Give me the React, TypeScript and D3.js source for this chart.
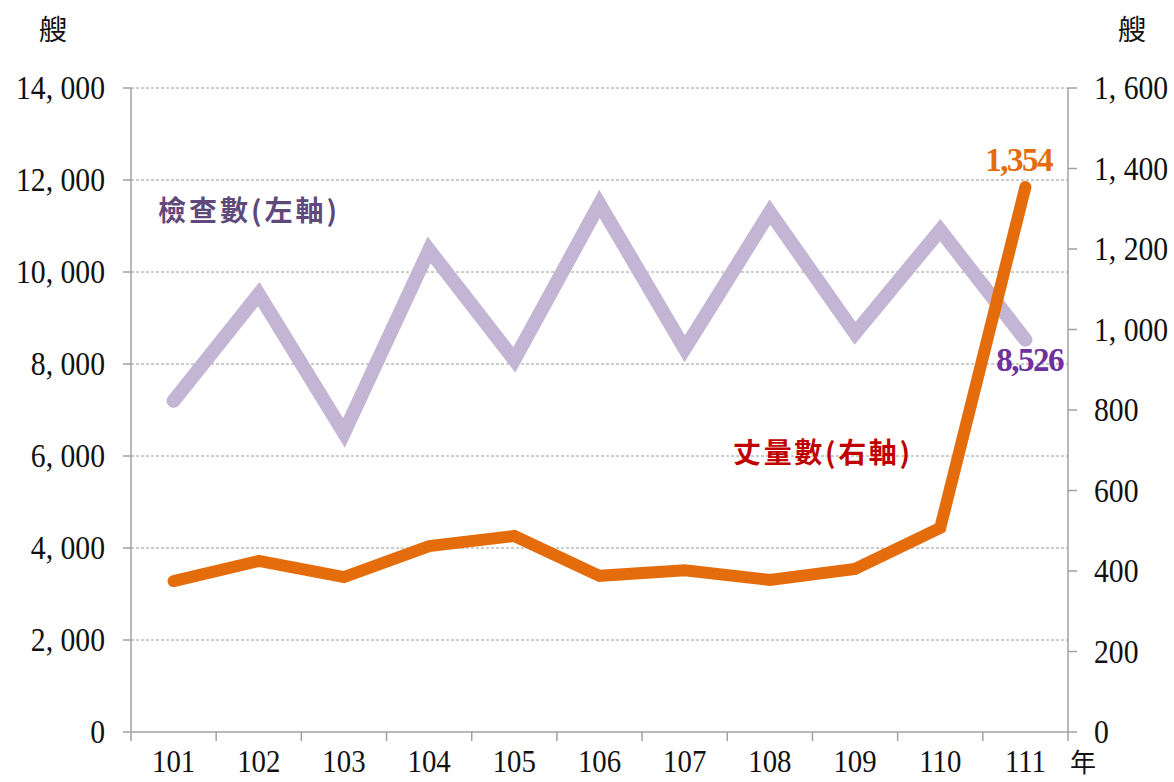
import React from "react";
import { scaleBand, scaleLinear, line, range } from "d3";

const years = ["101", "102", "103", "104", "105", "106", "107", "108", "109", "110", "111"];
const inspections = [7200, 9520, 6500, 10480, 8090, 11480, 8330, 11300, 8670, 10910, 8526];
const measured = [375, 425, 385, 462, 487, 388, 402, 378, 405, 507, 1354];
const leftTicks = [0, 2000, 4000, 6000, 8000, 10000, 12000, 14000];
const rightTicks = [0, 200, 400, 600, 800, 1000, 1200, 1400, 1600];

const W = 1174;
const H = 782;
const margin = { top: 88, right: 106, bottom: 50, left: 131 };

const serif = "'Liberation Serif', 'DejaVu Serif', serif";
const cjk = "'Noto Sans CJK TC', 'Noto Sans CJK SC', sans-serif";

const fmt = (v: number) => {
  if (v < 1000) return String(v);
  const s = String(v);
  return s.slice(0, s.length - 3) + ", " + s.slice(-3);
};

// narrow, tall digits like the original's Ming font
const Num = ({ x, y, anchor, size = 33, children }: { x: number; y: number; anchor: string; size?: number; children: string }) => (
  <text
    transform={`translate(${x},${y}) scale(0.9,1)`}
    textAnchor={anchor}
    fontFamily={serif}
    fontSize={size}
    fill="#111"
  >
    {children}
  </text>
);

export default function App() {
  const x0 = margin.left;
  const x1 = W - margin.right;
  const y0 = H - margin.bottom;
  const y1 = margin.top;

  const xScale = scaleBand<string>().domain(years).range([x0, x1]).padding(0);
  const cx = (d: string) => (xScale(d) as number) + xScale.bandwidth() / 2;
  const yLeft = scaleLinear().domain([0, 14000]).range([y0, y1]);
  const yRight = scaleLinear().domain([0, 1600]).range([y0, y1]);

  const leftLine = line<number>()
    .x((_, i) => cx(years[i]))
    .y((d) => yLeft(d));
  const rightLine = line<number>()
    .x((_, i) => cx(years[i]))
    .y((d) => yRight(d));

  const last = years.length - 1;

  return (
    <svg width={W} height={H} style={{ display: "block", position: "absolute", left: 0, top: 0, background: "white" }}>
      {/* grid */}
      {leftTicks.slice(1).map((t) => (
        <line
          key={"g" + t}
          x1={x0}
          x2={x1}
          y1={yLeft(t)}
          y2={yLeft(t)}
          stroke="#9a9a9a"
          strokeWidth={1}
          strokeDasharray="3,2"
        />
      ))}

      {/* left axis */}
      <line x1={x0} x2={x0} y1={y1} y2={y0} stroke="#a0a0a0" strokeWidth={1.5} />
      {leftTicks.map((t) => (
        <g key={"l" + t}>
          <line x1={x0 - 8} x2={x0} y1={yLeft(t)} y2={yLeft(t)} stroke="#a0a0a0" strokeWidth={1.5} />
          <Num x={105} y={yLeft(t) + 11} anchor="end">{fmt(t)}</Num>
        </g>
      ))}

      {/* right axis */}
      <line x1={x1} x2={x1} y1={y1} y2={y0} stroke="#a0a0a0" strokeWidth={1.5} />
      {rightTicks.map((t) => (
        <g key={"r" + t}>
          <line x1={x1} x2={x1 + 9} y1={yRight(t)} y2={yRight(t)} stroke="#a0a0a0" strokeWidth={1.5} />
          <Num x={1094} y={yRight(t) + 11} anchor="start">{fmt(t)}</Num>
        </g>
      ))}

      {/* bottom axis */}
      <line x1={x0} x2={x1} y1={y0} y2={y0} stroke="#a0a0a0" strokeWidth={1.5} />
      {range(years.length + 1).map((i) => {
        const xx = i < years.length ? (xScale(years[i]) as number) : x1;
        return <line key={"b" + i} x1={xx} x2={xx} y1={y0} y2={y0 + 9} stroke="#a0a0a0" strokeWidth={1.5} />;
      })}
      {years.map((d) => (
        <Num key={"t" + d} x={cx(d)} y={772} size={32} anchor="middle">{d}</Num>
      ))}

      {/* units */}
      <text x={53} y={40} textAnchor="middle" fontFamily={cjk} fontSize={28} fill="#111">艘</text>
      <text x={1132} y={40} textAnchor="middle" fontFamily={cjk} fontSize={28} fill="#111">艘</text>
      <text x={1083} y={772} textAnchor="middle" fontFamily={cjk} fontSize={26} fill="#111">年</text>

      {/* series */}
      <path
        d={leftLine(inspections) || ""}
        fill="none"
        stroke="#c3b5d3"
        strokeWidth={14}
        strokeLinecap="round"
        strokeLinejoin="miter"
      />
      <path
        d={rightLine(measured) || ""}
        fill="none"
        stroke="#e46c0a"
        strokeWidth={12}
        strokeLinecap="round"
        strokeLinejoin="miter"
      />

      {/* value labels */}
      <text
        x={1052}
        y={yRight(measured[last]) - 16}
        textAnchor="end"
        fontFamily={serif}
        fontWeight="bold"
        fontSize={33}
        letterSpacing={-1.5}
        fill="#e46c0a"
      >
        {"1,354"}
      </text>
      <text
        x={1063}
        y={yLeft(inspections[last]) + 31}
        textAnchor="end"
        fontFamily={serif}
        fontWeight="bold"
        fontSize={33}
        letterSpacing={-1.5}
        fill="#7030a0"
      >
        {"8,526"}
      </text>

      {/* series names */}
      <text
        x={158}
        y={221}
        fontFamily={cjk}
        fontWeight="bold"
        fontSize={28}
        textLength={179}
        lengthAdjust="spacing"
        fill="#5f497a"
      >
        檢查數(左軸)
      </text>
      <text
        x={733}
        y={463}
        fontFamily={cjk}
        fontWeight="bold"
        fontSize={28}
        textLength={177}
        lengthAdjust="spacing"
        fill="#c00000"
      >
        丈量數(右軸)
      </text>
    </svg>
  );
}
